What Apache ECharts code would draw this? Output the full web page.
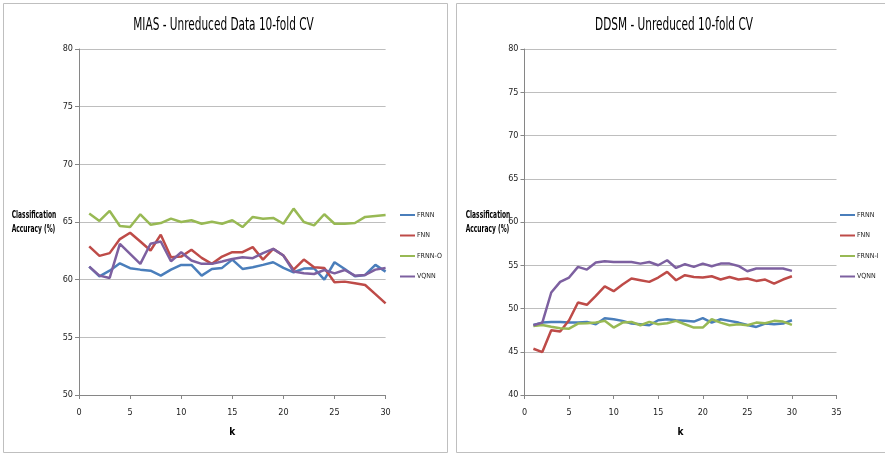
<!DOCTYPE html>
<html>
<head>
<meta charset="utf-8">
<script src="https://cdn.jsdelivr.net/npm/echarts@6/dist/echarts.min.js"></script>
<style>
html,body{margin:0;padding:0;background:#fff;}
#c{width:885px;height:455px;}
</style>
</head>
<body>
<div id="c"></div>
<script>
// k values (x axis)
var ks = [1,2,3,4,5,6,7,8,9,10,11,12,13,14,15,16,17,18,19,20,21,22,23,24,25,26,27,28,29,30];

// MIAS - Unreduced Data 10-fold CV
var miasFRNN  = [61.13,60.29,60.78,61.42,60.99,60.87,60.78,60.35,60.87,61.28,61.28,60.35,60.93,61.02,61.74,60.93,61.08,61.28,61.51,61.02,60.64,60.96,60.99,60.00,61.51,60.93,60.29,60.41,61.28,60.70];
var miasFNN   = [62.88,62.06,62.30,63.52,64.07,63.31,62.53,63.90,61.95,62.00,62.59,61.89,61.37,62.00,62.38,62.38,62.82,61.74,62.67,62.09,60.87,61.74,61.08,61.02,59.77,59.83,59.69,59.54,58.75,57.94];
var miasFRNNO = [65.73,65.09,65.96,64.65,64.56,65.67,64.77,64.91,65.29,65.00,65.15,64.85,65.03,64.85,65.15,64.56,65.44,65.29,65.35,64.85,66.16,65.00,64.71,65.67,64.85,64.85,64.91,65.44,65.52,65.60];
var miasVQNN  = [61.13,60.35,60.15,63.11,62.24,61.37,63.11,63.31,61.60,62.38,61.66,61.37,61.37,61.57,61.80,61.95,61.86,62.30,62.67,62.09,60.70,60.55,60.49,60.84,60.55,60.84,60.35,60.41,60.87,61.02];

// DDSM - Unreduced 10-fold CV
var ddsmFRNN  = [48.10,48.37,48.45,48.45,48.37,48.37,48.45,48.18,48.88,48.76,48.57,48.26,48.18,48.06,48.64,48.76,48.64,48.57,48.49,48.88,48.37,48.76,48.57,48.37,48.10,47.87,48.26,48.18,48.26,48.64];
var ddsmFNN   = [45.35,44.96,47.48,47.33,48.64,50.70,50.43,51.47,52.55,52.00,52.77,53.46,53.27,53.08,53.58,54.23,53.27,53.85,53.65,53.58,53.73,53.35,53.65,53.35,53.46,53.19,53.35,52.88,53.35,53.73];
var ddsmFRNNI = [47.98,48.10,47.90,47.71,47.67,48.26,48.30,48.37,48.57,47.79,48.37,48.45,48.06,48.45,48.18,48.30,48.57,48.18,47.79,47.79,48.76,48.37,48.06,48.18,48.06,48.37,48.30,48.57,48.49,48.10];
var ddsmVQNN  = [48.06,48.37,51.85,53.08,53.58,54.81,54.50,55.31,55.46,55.38,55.38,55.38,55.19,55.38,55.00,55.58,54.69,55.12,54.81,55.19,54.88,55.19,55.19,54.92,54.31,54.62,54.62,54.62,54.62,54.35];

var titles = ['MIAS - Unreduced Data 10-fold CV', 'DDSM - Unreduced 10-fold CV'];
var yName = 'Classification\nAccuracy (%)';
var xName = 'k';
var leftNames = ['FRNN','FNN','FRNN-O','VQNN'];
var rightNames = ['FRNN','FNN','FRNN-I','VQNN'];

var colors = {'FRNN':'#4A7EBB','FNN':'#BE4B48','FRNN-O':'#98B954','FRNN-I':'#98B954','VQNN':'#7D60A0'};
var FONT = '"DejaVu Sans Condensed","Liberation Sans Narrow",sans-serif';

function pairs(vals){ return ks.map(function(k,i){ return [k, vals[i]]; }); }
function mk(name, vals, idx){
  return {
    name:name, type:'line', xAxisIndex:idx, yAxisIndex:idx,
    data:pairs(vals), showSymbol:false, symbol:'none', smooth:false,
    lineStyle:{width:2.5, color:colors[name]}, itemStyle:{color:colors[name]},
    emphasis:{disabled:true}, animation:false, z:3
  };
}

function xAx(idx, max){
  return {
    type:'value', gridIndex:idx, min:0, max:max, interval:5,
    name:xName, nameLocation:'middle', nameGap:32,
    nameTextStyle:{fontFamily:FONT, fontSize:10, fontWeight:'bold', color:'#000'},
    axisLine:{show:true, onZero:false, lineStyle:{color:'#868686', width:1}},
    axisTick:{show:true, inside:false, length:4, lineStyle:{color:'#868686'}},
    axisLabel:{fontFamily:FONT, fontSize:9, color:'#222', margin:13},
    splitLine:{show:false}
  };
}
function yAx(idx, min){
  return {
    type:'value', gridIndex:idx, min:min, max:80, interval:5,
    axisLine:{show:true, lineStyle:{color:'#868686', width:1}},
    axisTick:{show:true, inside:false, length:4, lineStyle:{color:'#868686'}},
    axisLabel:{fontFamily:FONT, fontSize:9, color:'#222', margin:6},
    splitLine:{show:true, lineStyle:{color:'#BEBEBE', width:1}}
  };
}
function legend(names, left){
  return {
    orient:'vertical', left:left, top:210, padding:0, itemWidth:15, itemHeight:2, itemGap:10.5,
    icon:'rect', data:names, selectedMode:false,
    textStyle:{fontFamily:FONT, fontSize:7, color:'#222', lineHeight:10, padding:[0,0,0,-3]}
  };
}

var chart = echarts.init(document.getElementById('c'), null, {renderer:'canvas'});
chart.setOption({
  animation:false,
  backgroundColor:'#fff',
  grid:[
    {left:79, top:49, width:306.6, height:346, containLabel:false},
    {left:524.5, top:49, width:312, height:346, containLabel:false}
  ],
  xAxis:[xAx(0,30), xAx(1,35)],
  yAxis:[yAx(0,50), yAx(1,40)],
  legend:[legend(leftNames, 400), legend(rightNames, 840)],
  series:[
    mk('FRNN', miasFRNN, 0), mk('FNN', miasFNN, 0), mk('FRNN-O', miasFRNNO, 0), mk('VQNN', miasVQNN, 0),
    mk('FRNN', ddsmFRNN, 1), mk('FNN', ddsmFNN, 1), mk('FRNN-I', ddsmFRNNI, 1), mk('VQNN', ddsmVQNN, 1)
  ],
  graphic:[
    {type:'rect', shape:{x:3.5, y:3.5, width:444, height:449}, style:{fill:null, stroke:'#BFBFBF', lineWidth:1}, z:0, silent:true},
    {type:'rect', shape:{x:456.5, y:3.5, width:440, height:449}, style:{fill:null, stroke:'#BFBFBF', lineWidth:1}, z:0, silent:true},
    {type:'text', x:223.5, y:25, scaleX:0.65, style:{text:titles[0], font:'18px '+FONT, fill:'#000', textAlign:'center', textVerticalAlign:'middle'}, z:5, silent:true},
    {type:'text', x:674, y:25, scaleX:0.65, style:{text:titles[1], font:'18px '+FONT, fill:'#000', textAlign:'center', textVerticalAlign:'middle'}, z:5, silent:true},
    {type:'text', x:11.7, y:222, scaleX:0.6, style:{text:yName, font:'bold 11px '+FONT, lineHeight:14, fill:'#000', textAlign:'left', textVerticalAlign:'middle'}, z:5, silent:true},
    {type:'text', x:465.7, y:222, scaleX:0.6, style:{text:yName, font:'bold 11px '+FONT, lineHeight:14, fill:'#000', textAlign:'left', textVerticalAlign:'middle'}, z:5, silent:true}
  ]
});
</script>
</body>
</html>
